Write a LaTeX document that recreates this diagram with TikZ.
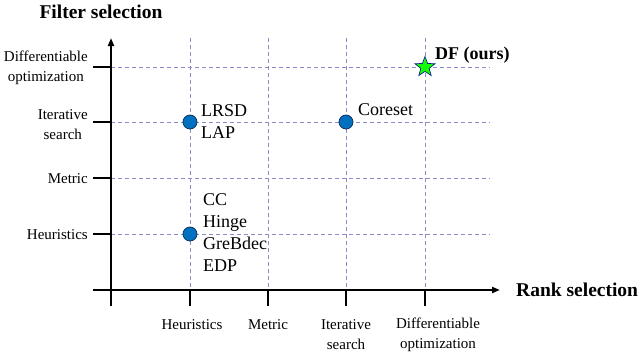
\documentclass[tikz,border=0pt]{standalone}
\usepackage{fontspec}
\setmainfont{Liberation Serif}
\usetikzlibrary{shapes.geometric,arrows.meta}
\definecolor{gridc}{RGB}{140,140,200}
\definecolor{ptfill}{RGB}{0,112,192}
\definecolor{ptdraw}{RGB}{20,50,100}
\begin{document}
\begin{tikzpicture}[x=1pt,y=-1pt,
  axis/.style={line width=2.4pt},
  tick/.style={line width=1.8pt},
  gridl/.style={gridc,line width=0.9pt,dash pattern=on 4pt off 3pt},
  axlab/.style={font=\fontsize{15}{20}\selectfont,inner sep=0pt,align=center},
  ptlab/.style={font=\fontsize{18}{22}\selectfont,inner sep=0pt,align=left,anchor=west},
  title/.style={font=\fontsize{19.5}{23}\selectfont\bfseries,inner sep=0pt},
  pt/.style={circle,fill=ptfill,draw=ptdraw,line width=0.8pt,minimum size=14pt,inner sep=0pt},
  starpt/.style={star,star points=5,star point ratio=2.4,fill=green!90!lime,draw=ptdraw!70!blue,line width=0.7pt,minimum size=21pt,inner sep=0pt}]
\useasboundingbox (0,0) rectangle (640,354);
% coordinates
\coordinate (O) at (111,290);
\coordinate (ytop) at (111,38);
\coordinate (ybot) at (111,306);
\coordinate (xleft) at (93,290);
\coordinate (xright) at (500,290);
% grid lines
\foreach \yy/\nm in {67/y4,122/y3,178/y2,234/y1}{
  \coordinate (\nm a) at (111,\yy);
  \coordinate (\nm b) at (490,\yy);
  \coordinate (\nm t) at (93,\yy);
  \draw[gridl] (\nm a) -- (\nm b);
  \draw[tick] (\nm t) -- (\nm a);
}
\foreach \xx/\nm in {190/x1,268/x2,346/x3,425/x4}{
  \coordinate (\nm a) at (\xx,38);
  \coordinate (\nm b) at (\xx,290);
  \coordinate (\nm t) at (\xx,306);
  \draw[gridl] (\nm a) -- (\nm b);
  \draw[tick] (\nm b) -- (\nm t);
}
% axes
\draw[axis,-{Triangle[length=8pt,width=6pt]}] (ybot) -- (ytop);
\draw[axis,-{Triangle[length=8pt,width=6pt]}] (xleft) -- (xright);
% titles
\node[title] (ft) at (101,12) {Filter selection};
\node[title,anchor=west] (rt) at (516,290) {Rank selection};
% y labels
\node[axlab,anchor=east] (yl4) at (88,68) {Differentiable\\optimization};
\node[axlab,anchor=east] (yl3) at (88,125) {Iterative\\search};
\node[axlab,anchor=east] (yl2) at (88,179) {Metric};
\node[axlab,anchor=east] (yl1) at (88,235) {Heuristics};
% x labels
\node[axlab] (xl1) at (192,325) {Heuristics};
\node[axlab] (xl2) at (268,325) {Metric};
\node[axlab] (xl3) at (346,335) {Iterative\\search};
\node[axlab] (xl4) at (438,335) {Differentiable\\optimization};
% points
\node[pt] (p1) at (190,122) {};
\node[pt] (p2) at (346,122) {};
\node[pt] (p3) at (190,234) {};
\node[starpt] (s) at (425,67) {};
% point labels
\node[ptlab] (l1) at (201,122) {LRSD\\LAP};
\node[ptlab] (l2) at (358,110) {Coreset};
\node[ptlab] (l3) at (203,233) {CC\\Hinge\\GreBdec\\EDP};
\node[ptlab,font=\fontsize{18}{22}\selectfont\bfseries] (l4) at (435,55) {DF (ours)};
\end{tikzpicture}
\end{document}
